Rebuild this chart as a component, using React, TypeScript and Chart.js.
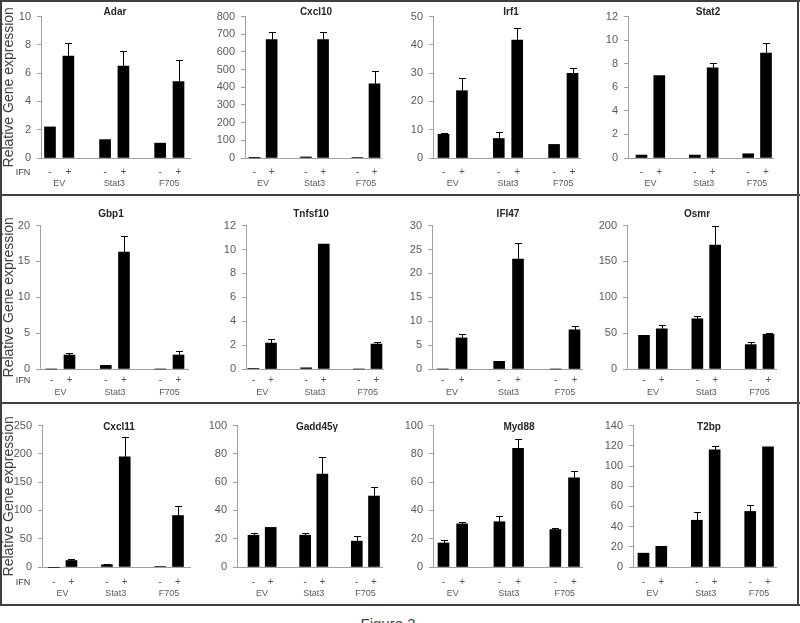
import React, { useEffect, useRef } from 'react';
import { Chart, registerables } from 'chart.js';

Chart.register(...registerables);

// ---------- data ----------
const groups = ['EV', 'Stat3', 'F705'];
const ifnSigns = ['-', '+'];
const genes = ['Adar', 'Cxcl10', 'Irf1', 'Stat2', 'Gbp1', 'Tnfsf10', 'IFI47', 'Osmr', 'Cxcl11', 'Gadd45\u03b3', 'Myd88', 'T2bp'];
const yMax = [10, 800, 50, 12, 20, 12, 30, 200, 250, 100, 100, 140];
const yStep = [2, 100, 10, 2, 5, 2, 5, 50, 50, 20, 20, 20];

// order of each series: EV -, EV +, Stat3 -, Stat3 +, F705 -, F705 +
const adar = [2.2, 7.2, 1.3, 6.5, 1.05, 5.4];
const adarErr = [0, 0.9, 0, 1.1, 0, 1.5];
const cxcl10 = [1, 670, 6, 670, 3, 420];
const cxcl10Err = [0, 45, 0, 45, 0, 70];
const irf1 = [8.4, 23.8, 6.9, 41.7, 4.8, 29.9];
const irf1Err = [0.6, 4.6, 2.3, 4.3, 0, 2.1];
const stat2 = [0.25, 7.0, 0.25, 7.65, 0.36, 8.9];
const stat2Err = [0, 0, 0, 0.4, 0, 0.85];
const gbp1 = [0, 1.95, 0.5, 16.3, 0, 1.95];
const gbp1Err = [0, 0.35, 0.1, 2.2, 0, 0.6];
const tnfsf10 = [0.05, 2.17, 0.1, 10.45, 0, 2.09];
const tnfsf10Err = [0, 0.33, 0, 0, 0, 0.2];
const ifi47 = [0, 6.5, 1.6, 23, 0, 8.2];
const ifi47Err = [0, 0.9, 0, 3.4, 0, 0.85];
const osmr = [47, 56, 70, 173, 34, 48.5];
const osmrErr = [0, 5, 3.5, 26, 4, 1.8];
const cxcl11 = [-1, 11.5, 4, 195, 1, 91];
const cxcl11Err = [0, 3.5, 1.8, 34, 0, 17];
const gadd45g = [22.5, 28, 22.5, 65.7, 18.3, 50.2];
const gadd45gErr = [1.2, 0, 1.3, 12.3, 3.7, 6.5];
const myd88 = [17, 30.5, 32, 84, 26.5, 63];
const myd88Err = [2, 1.2, 4, 6.7, 1.4, 4.7];
const t2bp = [13.7, 20.5, 46.3, 116, 55, 119];
const t2bpErr = [0, 0, 8.5, 4, 6.5, 0];

const seriesValues = [adar, cxcl10, irf1, stat2, gbp1, tnfsf10, ifi47, osmr, cxcl11, gadd45g, myd88, t2bp];
const seriesErrors = [adarErr, cxcl10Err, irf1Err, stat2Err, gbp1Err, tnfsf10Err, ifi47Err, osmrErr, cxcl11Err, gadd45gErr, myd88Err, t2bpErr];

// ---------- layout (pixels) ----------
// [axis left, axis right, first bar centre, last bar centre, title centre x]
const panelX = [
  [41, 190, 50, 178.5, 115],
  [245, 381, 254.5, 374.5, 316],
  [433, 580, 443.5, 572.5, 511],
  [628, 773, 641.5, 766, 708],
  [40, 188, 51.3, 178.5, 111],
  [246, 383, 253.4, 376.5, 311],
  [432, 582, 442.7, 574.5, 508],
  [627, 776, 644, 768.5, 697],
  [42, 190, 53.7, 178, 119],
  [237, 382, 253.5, 374, 317],
  [433, 582, 443.5, 574, 519],
  [633, 776, 643.5, 768, 709],
];
// [plot top, plot bottom, sign label offset, group label offset, title centre y]
const rowY = [
  [14, 158, 14, 25, 12],
  [223, 369, 11, 24, 214],
  [423, 567, 15, 27, 427],
];

const FONT = "'Liberation Sans', Arial, sans-serif";
const axisColor = '#a0a0a0';
const labelColor = '#595959';

const errorBarPlugin = {
  id: 'errorBars',
  afterDatasetsDraw(chart: any, _args: any, opts: any) {
    const errs: number[] = opts.errors || [];
    const ds = chart.data.datasets[0];
    const meta = chart.getDatasetMeta(0);
    const ys = chart.scales.y;
    const ctx = chart.ctx;
    ctx.save();
    ctx.strokeStyle = '#000';
    ctx.lineWidth = 1;
    meta.data.forEach((bar: any, i: number) => {
      const e = errs[i];
      if (!e) return;
      const v = ds.data[i].y;
      const x = Math.round(bar.x) + 0.5;
      const y0 = ys.getPixelForValue(v);
      const y1 = Math.round(ys.getPixelForValue(v + e)) + 0.5;
      ctx.beginPath();
      ctx.moveTo(x, y0);
      ctx.lineTo(x, y1);
      ctx.moveTo(x - 3.5, y1);
      ctx.lineTo(x + 3.5, y1);
      ctx.stroke();
    });
    ctx.restore();
  },
};

function Panel({ i }: { i: number }) {
  const ref = useRef<HTMLCanvasElement>(null);
  const col = i % 4;
  const row = Math.floor(i / 4);
  const [L, R, c0, c7] = panelX[i];
  const [pTop, pBot, signOff, groupOff] = rowY[row];
  const yw = col === 0 ? L : 30;
  const cLeft = L - yw;
  const padTop = 10;
  const cTop = pTop - padTop;
  const lh1 = 12;
  const lh2 = 10.8;
  const h1 = signOff + lh1 / 2;
  const pad1 = signOff - lh1 / 2;
  const pad2 = Math.max(0, groupOff - h1 - lh2 / 2);
  const h2 = Math.ceil(pad2 + lh2 + 3);
  const cW = Math.ceil(R - cLeft + 14);
  const cH = padTop + (pBot - pTop) + h1 + h2;
  const slot = (c7 - c0) / 7;
  const xmin = -(c0 - L) / slot;
  const xmax = 7 + (R - c7) / slot;

  useEffect(() => {
    if (!ref.current) return;
    const positions: number[] = [];
    const data: { x: number; y: number }[] = [];
    groups.forEach((_g, gi) => {
      ifnSigns.forEach((_s, si) => {
        positions.push(gi * 3 + si);
        data.push({ x: gi * 3 + si, y: seriesValues[i][gi * 2 + si] });
      });
    });
    const groupPos = groups.map((_g, gi) => gi * 3 + 0.5);
    const chart = new Chart(ref.current, {
      type: 'bar',
      data: {
        datasets: [
          {
            data,
            backgroundColor: '#000',
            borderWidth: 0,
            barThickness: 11,
            clip: false as any,
          } as any,
        ],
      },
      plugins: [errorBarPlugin as any],
      options: {
        responsive: false,
        animation: false,
        parsing: { xAxisKey: 'x', yAxisKey: 'y' } as any,
        layout: { padding: { top: padTop, right: cW - (R - cLeft), bottom: 0, left: 0 } },
        plugins: {
          legend: { display: false },
          tooltip: { enabled: false },
          title: { display: false },
          errorBars: { errors: seriesErrors[i] },
        } as any,
        scales: {
          x: {
            type: 'linear',
            position: 'bottom',
            min: xmin,
            max: xmax,
            offset: false,
            bounds: 'data',
            weight: 0,
            grid: { display: true, drawOnChartArea: false, drawTicks: false, offset: false },
            border: { display: true, color: axisColor, width: 1 },
            afterBuildTicks: (ax: any) => {
              ax.ticks = positions.map((v) => ({ value: v }));
            },
            ticks: {
              autoSkip: false,
              maxRotation: 0,
              minRotation: 0,
              padding: pad1,
              color: labelColor,
              font: { size: 10, family: FONT },
              callback: (v: any) => ifnSigns[Math.round(Number(v)) % 3] ?? '',
            },
            afterFit: (ax: any) => {
              ax.height = h1;
            },
          } as any,
          x2: {
            type: 'linear',
            position: 'bottom',
            min: xmin,
            max: xmax,
            offset: false,
            bounds: 'data',
            weight: 1,
            grid: { display: false, drawTicks: false, drawOnChartArea: false },
            border: { display: false },
            afterBuildTicks: (ax: any) => {
              ax.ticks = groupPos.map((v) => ({ value: v }));
            },
            ticks: {
              autoSkip: false,
              maxRotation: 0,
              minRotation: 0,
              padding: pad2,
              color: labelColor,
              font: { size: 9, family: FONT },
              callback: (v: any) => groups[Math.round((Number(v) - 0.5) / 3)] ?? '',
            },
            afterFit: (ax: any) => {
              ax.height = h2;
            },
          } as any,
          y: {
            type: 'linear',
            min: 0,
            max: yMax[i],
            ticks: {
              stepSize: yStep[i],
              autoSkip: false,
              padding: 6,
              color: labelColor,
              font: { size: 11, family: FONT },
            },
            grid: { display: true, drawOnChartArea: false, drawTicks: true, tickLength: 4, color: axisColor },
            border: { display: true, color: axisColor, width: 1 },
            title:
              col === 0
                ? {
                    display: true,
                    text: 'Relative Gene expression',
                    color: '#404040',
                    font: { size: 14, family: FONT },
                    padding: { top: 1, bottom: 0 },
                  }
                : { display: false },
            afterFit: (ax: any) => {
              ax.width = yw;
            },
          } as any,
        },
      },
    });
    return () => chart.destroy();
  }, [i]);

  return (
    <canvas
      ref={ref}
      width={cW}
      height={cH}
      style={{ position: 'absolute', left: cLeft, top: cTop, width: cW, height: cH }}
    />
  );
}

const frameColor = '#404040';

export default function App() {
  const lines = [
    { left: 0, top: 0, width: 800, height: 2 },
    { left: 0, top: 194, width: 800, height: 2 },
    { left: 0, top: 402, width: 800, height: 2 },
    { left: 0, top: 604, width: 800, height: 2 },
    { left: 0, top: 0, width: 2, height: 606 },
    { left: 797, top: 0, width: 2, height: 606 },
  ];
  return (
    <div
      style={{
        position: 'fixed',
        left: 0,
        top: 0,
        width: 800,
        height: 623,
        overflow: 'hidden',
        background: '#fff',
        fontFamily: FONT,
      }}
    >
      {genes.map((_g, i) => (
        <Panel key={i} i={i} />
      ))}
      {genes.map((g, i) => (
        <div
          key={'t' + i}
          style={{
            position: 'absolute',
            left: panelX[i][4],
            top: rowY[Math.floor(i / 4)][4] - 6,
            transform: 'translateX(-50%)',
            fontSize: 10,
            lineHeight: '12px',
            fontWeight: 'bold',
            color: '#262626',
            whiteSpace: 'nowrap',
          }}
        >
          {g}
        </div>
      ))}
      {rowY.map((r, ri) => (
        <div
          key={'ifn' + ri}
          style={{
            position: 'absolute',
            left: 23,
            top: r[1] + r[2] - 6,
            transform: 'translateX(-50%)',
            fontSize: 9,
            lineHeight: '12px',
            color: '#404040',
          }}
        >
          IFN
        </div>
      ))}
      {lines.map((l, k) => (
        <div key={'l' + k} style={{ position: 'absolute', background: frameColor, ...l }} />
      ))}
      <div
        style={{
          position: 'absolute',
          left: 388,
          top: 616,
          transform: 'translateX(-50%)',
          fontSize: 15,
          lineHeight: '15px',
          color: '#404040',
          whiteSpace: 'nowrap',
        }}
      >
        Figure 3
      </div>
    </div>
  );
}
